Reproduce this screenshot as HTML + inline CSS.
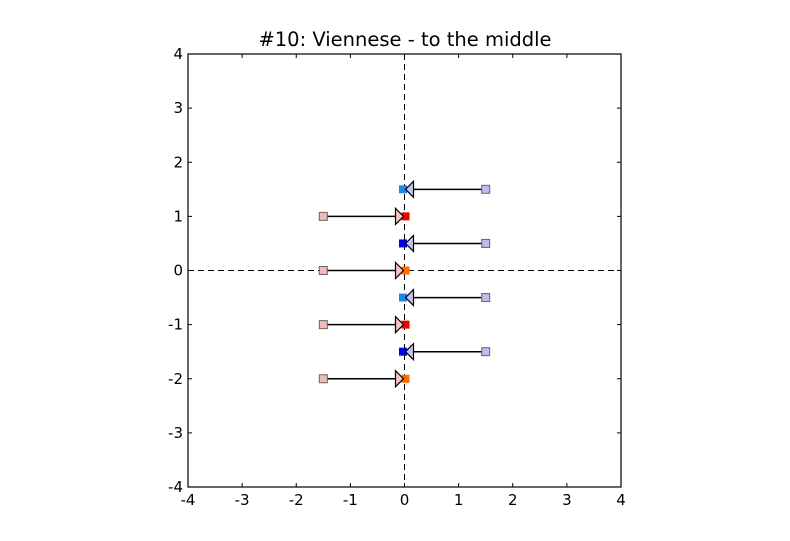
<!DOCTYPE html>
<html><head><meta charset="utf-8"><style>
body{margin:0;background:#fff;}
svg{display:block;font-family:"DejaVu Sans","Liberation Sans",sans-serif;}
</style></head><body>
<svg id="c" width="790" height="541">
<text x="405" y="46" font-size="19.5" text-anchor="middle">#10: Viennese - to the middle</text>
<g id="marks"></g>
<g id="axes"></g>
</svg>
<script>
const startX=[1.5,-1.5,1.5,-1.5,1.5,-1.5,1.5,-1.5];
const endX=[0,0,0,0,0,0,0,0];
const rowY=[1.5,1,0.5,0,-0.5,-1,-1.5,-2];
const endColors=['#1e88e0','#ee0000','#0000dd','#ff6a00','#1e88e0','#ee0000','#0000dd','#ff6a00'];
const ticks=[-4,-3,-2,-1,0,1,2,3,4];
const L=188,R=621,T=54,B=487;
const sx=v=>L+(v+4)/8*(R-L), sy=v=>B-(v+4)/8*(B-T);
const NS='http://www.w3.org/2000/svg';
const m=document.getElementById('marks'), a=document.getElementById('axes');
function mk(p,tag,at){const e=document.createElementNS(NS,tag);for(const k in at)e.setAttribute(k,at[k]);p.appendChild(e);return e;}
let e;
e=mk(m,'line',{x1:sx(0),x2:sx(0),y1:T,y2:B,stroke:'#000','stroke-dasharray':'6,4'});


e=mk(m,'line',{x1:L,x2:R,y1:sy(0),y2:sy(0),stroke:'#000','stroke-dasharray':'6,4'});


for(let i=0;i<rowY.length;i++){
  const y=sy(rowY[i]), x0=sx(startX[i]), x1=sx(endX[i]);
  const dir=Math.sign(x1-x0);
  const pale=dir<0?'#bbbbee':'#f2bbbb', head=dir<0?'#c4c4f4':'#f6c4c4';
  e=mk(m,'line',{x1:x0,x2:x1,y1:y,y2:y,stroke:'#000','stroke-width':1.5});
  
  
  e=mk(m,'rect',{x:x0-4,y:y-4,width:8,height:8,fill:pale,stroke:'#666'});
  
  
  const ex=x1+(dir<0?-1.5:1);
  e=mk(m,'rect',{x:ex-4,y:y-4,width:8,height:8,fill:endColors[i]});
  
  
  const tip=x1-dir*1, base=tip-dir*8;
  e=mk(m,'polygon',{points:`${tip},${y} ${base},${y-8} ${base},${y+8}`,fill:head,stroke:'#000','stroke-width':1.2});
  
  
}
e=mk(a,'rect',{x:L,y:T,width:R-L,height:B-T,fill:'none',stroke:'#000','stroke-width':1.2});


ticks.forEach(t=>{
  const x=sx(t), y=sy(t);
  mk(a,'line',{x1:x,x2:x,y1:B,y2:B-4,stroke:'#000'});
  mk(a,'line',{x1:x,x2:x,y1:T,y2:T+4,stroke:'#000'});
  mk(a,'line',{x1:L,x2:L+4,y1:y,y2:y,stroke:'#000'});
  mk(a,'line',{x1:R,x2:R-4,y1:y,y2:y,stroke:'#000'});
  e=mk(a,'text',{x:x,y:B+18,'font-size':15,'text-anchor':'middle'});e.textContent=t;
  
  
  e=mk(a,'text',{x:L-5,y:y+5,'font-size':15,'text-anchor':'end'});e.textContent=t;
  
  
});
</script>
</body></html>
